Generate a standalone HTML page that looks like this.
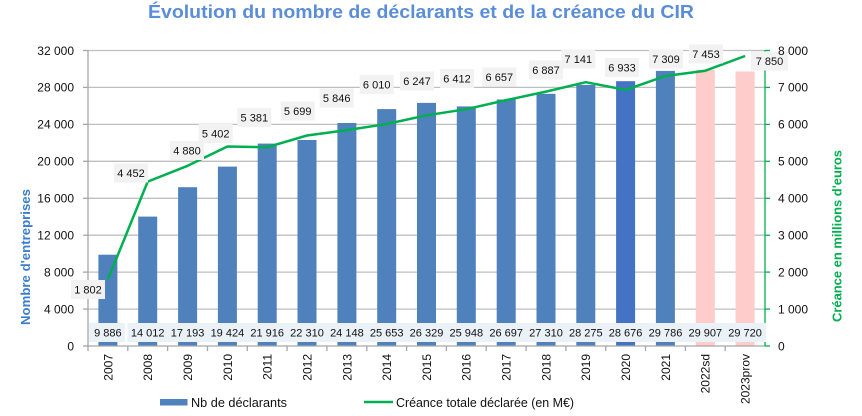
<!DOCTYPE html>
<html><head><meta charset="utf-8"><style>
html,body{margin:0;padding:0;background:#fff;}
svg{display:block;font-family:"Liberation Sans",Arial,sans-serif;}
</style></head><body>
<svg width="862" height="416" viewBox="0 0 862 416" xmlns="http://www.w3.org/2000/svg">
<rect width="862" height="416" fill="#fff"/>
<text x="148" y="18" font-size="18" font-weight="bold" fill="#5A8ED8" textLength="546" lengthAdjust="spacingAndGlyphs">Évolution du nombre de déclarants et de la créance du CIR</text>

<!-- gridlines -->
<g stroke="#BFBFBF" stroke-width="1.3">
<line x1="88" y1="50.5" x2="765" y2="50.5"/>
<line x1="88" y1="87.4" x2="765" y2="87.4"/>
<line x1="88" y1="124.4" x2="765" y2="124.4"/>
<line x1="88" y1="161.3" x2="765" y2="161.3"/>
<line x1="88" y1="198.3" x2="765" y2="198.3"/>
<line x1="88" y1="235.2" x2="765" y2="235.2"/>
<line x1="88" y1="272.1" x2="765" y2="272.1"/>
<line x1="88" y1="309.1" x2="765" y2="309.1"/>
</g>
<!-- left ticks -->
<g stroke="#A6A6A6" stroke-width="1.3">
<line x1="83" y1="50.5" x2="88" y2="50.5"/>
<line x1="83" y1="87.4" x2="88" y2="87.4"/>
<line x1="83" y1="124.4" x2="88" y2="124.4"/>
<line x1="83" y1="161.3" x2="88" y2="161.3"/>
<line x1="83" y1="198.3" x2="88" y2="198.3"/>
<line x1="83" y1="235.2" x2="88" y2="235.2"/>
<line x1="83" y1="272.1" x2="88" y2="272.1"/>
<line x1="83" y1="309.1" x2="88" y2="309.1"/>
<line x1="83" y1="346" x2="88" y2="346"/>
</g>

<!-- bars -->
<g fill="#4F81BD">
<rect x="98.4" y="254.7" width="19" height="91.3"/>
<rect x="138.2" y="216.6" width="19" height="129.4"/>
<rect x="178.1" y="187.2" width="19" height="158.8"/>
<rect x="217.9" y="166.6" width="19" height="179.4"/>
<rect x="257.7" y="143.6" width="19" height="202.4"/>
<rect x="297.5" y="140.0" width="19" height="206.0"/>
<rect x="337.4" y="123.0" width="19" height="223.0"/>
<rect x="377.2" y="109.1" width="19" height="236.9"/>
<rect x="417.0" y="102.9" width="19" height="243.1"/>
<rect x="456.8" y="106.4" width="19" height="239.6"/>
<rect x="496.7" y="99.5" width="19" height="246.5"/>
<rect x="536.5" y="93.8" width="19" height="252.2"/>
<rect x="576.3" y="84.9" width="19" height="261.1"/>
<rect x="655.9" y="70.9" width="19" height="275.1"/>
</g>
<rect x="616.1" y="81.2" width="19" height="264.8" fill="#4472C4"/>
<rect x="695.8" y="69.8" width="19" height="276.2" fill="#FFCCCC"/>
<rect x="735.6" y="71.5" width="19" height="274.5" fill="#FFCCCC"/>

<!-- axes -->
<line x1="88" y1="50" x2="88" y2="346" stroke="#A6A6A6" stroke-width="1.3"/>
<line x1="88" y1="346" x2="765" y2="346" stroke="#A6A6A6" stroke-width="1.3"/>
<g stroke="#A6A6A6" stroke-width="1.3">
<line x1="88" y1="346" x2="88" y2="351"/>
<line x1="127.8" y1="346" x2="127.8" y2="351"/>
<line x1="167.6" y1="346" x2="167.6" y2="351"/>
<line x1="207.5" y1="346" x2="207.5" y2="351"/>
<line x1="247.3" y1="346" x2="247.3" y2="351"/>
<line x1="287.1" y1="346" x2="287.1" y2="351"/>
<line x1="326.9" y1="346" x2="326.9" y2="351"/>
<line x1="366.8" y1="346" x2="366.8" y2="351"/>
<line x1="406.6" y1="346" x2="406.6" y2="351"/>
<line x1="446.4" y1="346" x2="446.4" y2="351"/>
<line x1="486.2" y1="346" x2="486.2" y2="351"/>
<line x1="526.1" y1="346" x2="526.1" y2="351"/>
<line x1="565.9" y1="346" x2="565.9" y2="351"/>
<line x1="605.7" y1="346" x2="605.7" y2="351"/>
<line x1="645.5" y1="346" x2="645.5" y2="351"/>
<line x1="685.4" y1="346" x2="685.4" y2="351"/>
<line x1="725.2" y1="346" x2="725.2" y2="351"/>
</g>
<line x1="765" y1="50" x2="765" y2="346" stroke="#00B050" stroke-width="1.3"/>
<g stroke="#00B050" stroke-width="1.3">
<line x1="765" y1="50.5" x2="770" y2="50.5"/>
<line x1="765" y1="87.4" x2="770" y2="87.4"/>
<line x1="765" y1="124.4" x2="770" y2="124.4"/>
<line x1="765" y1="161.3" x2="770" y2="161.3"/>
<line x1="765" y1="198.3" x2="770" y2="198.3"/>
<line x1="765" y1="235.2" x2="770" y2="235.2"/>
<line x1="765" y1="272.1" x2="770" y2="272.1"/>
<line x1="765" y1="309.1" x2="770" y2="309.1"/>
<line x1="765" y1="346" x2="770" y2="346"/>
</g>

<!-- bottom data label boxes -->
<rect x="89" y="323" width="36" height="19" fill="#EAF2F8"/>
<rect x="127.5" y="323" width="638.5" height="19" fill="#EAF2F8"/>
<g font-size="11" fill="#111" text-anchor="middle">
<text x="107.9" y="336.5">9 886</text>
<text x="147.7" y="336.5">14 012</text>
<text x="187.6" y="336.5">17 193</text>
<text x="227.4" y="336.5">19 424</text>
<text x="267.2" y="336.5">21 916</text>
<text x="307.0" y="336.5">22 310</text>
<text x="346.9" y="336.5">24 148</text>
<text x="386.7" y="336.5">25 653</text>
<text x="426.5" y="336.5">26 329</text>
<text x="466.3" y="336.5">25 948</text>
<text x="506.2" y="336.5">26 697</text>
<text x="546.0" y="336.5">27 310</text>
<text x="585.8" y="336.5">28 275</text>
<text x="625.6" y="336.5">28 676</text>
<text x="665.5" y="336.5">29 786</text>
<text x="705.3" y="336.5">29 907</text>
<text x="745.1" y="336.5">29 720</text>
</g>

<!-- line -->
<polyline fill="none" stroke="#00B050" stroke-width="2.5" stroke-linejoin="round" points="107.9,279.4 147.7,181.6 187.6,165.8 227.4,146.5 267.2,147.2 307.0,135.5 346.9,130.1 386.7,124.0 426.5,115.3 466.3,109.2 506.2,100.1 546.0,91.6 585.8,82.2 625.6,89.9 665.5,76.0 705.3,70.7 745.1,56.0"/>

<!-- line labels -->
<g fill="#F2F2F2">
<rect x="71" y="280" width="34" height="19"/>
<rect x="114" y="163.5" width="34" height="19"/>
<rect x="170" y="141" width="34" height="19"/>
<rect x="198.7" y="124" width="34" height="19"/>
<rect x="237.3" y="108" width="34" height="19"/>
<rect x="280.7" y="101.5" width="34" height="19"/>
<rect x="319.7" y="88.5" width="34" height="19"/>
<rect x="359.7" y="75" width="34" height="19"/>
<rect x="400" y="71.5" width="34" height="19"/>
<rect x="440" y="69" width="34" height="19"/>
<rect x="482.3" y="67.5" width="34" height="19"/>
<rect x="529" y="60.5" width="34" height="19"/>
<rect x="561.3" y="49.5" width="34" height="19"/>
<rect x="605" y="58" width="34" height="19"/>
<rect x="649" y="49.5" width="34" height="19"/>
<rect x="689" y="44.5" width="34" height="19"/>
<rect x="751" y="51.5" width="37" height="19"/>
</g>
<g font-size="11" fill="#111" text-anchor="middle">
<text x="88" y="293.5">1 802</text>
<text x="131" y="177">4 452</text>
<text x="187" y="154.5">4 880</text>
<text x="215.7" y="137.5">5 402</text>
<text x="254.3" y="121.5">5 381</text>
<text x="297.7" y="115">5 699</text>
<text x="336.7" y="102">5 846</text>
<text x="376.7" y="88.5">6 010</text>
<text x="417" y="85">6 247</text>
<text x="457" y="82.5">6 412</text>
<text x="499.3" y="81">6 657</text>
<text x="546" y="74">6 887</text>
<text x="578.3" y="63">7 141</text>
<text x="622" y="71.5">6 933</text>
<text x="666" y="63">7 309</text>
<text x="706" y="58">7 453</text>
<text x="769.5" y="65">7 850</text>
</g>

<!-- left tick labels -->
<g font-size="12" fill="#111" text-anchor="end">
<text x="74" y="54.8">32 000</text>
<text x="74" y="91.7">28 000</text>
<text x="74" y="128.7">24 000</text>
<text x="74" y="165.6">20 000</text>
<text x="74" y="202.6">16 000</text>
<text x="74" y="239.5">12 000</text>
<text x="74" y="276.4">8 000</text>
<text x="74" y="313.4">4 000</text>
<text x="74" y="350.3">0</text>
</g>
<!-- right tick labels -->
<g font-size="12" fill="#111">
<text x="778" y="54.8">8 000</text>
<text x="778" y="91.7">7 000</text>
<text x="778" y="128.7">6 000</text>
<text x="778" y="165.6">5 000</text>
<text x="778" y="202.6">4 000</text>
<text x="778" y="239.5">3 000</text>
<text x="778" y="276.4">2 000</text>
<text x="778" y="313.4">1 000</text>
<text x="778" y="350.3">0</text>
</g>

<!-- axis titles -->
<text transform="translate(30,257) rotate(-90)" font-size="13" font-weight="bold" fill="#3B7DD0" text-anchor="middle" textLength="136" lengthAdjust="spacingAndGlyphs">Nombre d'entreprises</text>
<text transform="translate(841.5,236) rotate(-90)" font-size="13" font-weight="bold" fill="#00B050" text-anchor="middle" textLength="172" lengthAdjust="spacingAndGlyphs">Créance en millions d'euros</text>

<!-- x labels -->
<g font-size="12" fill="#111" text-anchor="end">
<text transform="translate(112.3,354) rotate(-90)">2007</text>
<text transform="translate(152.1,354) rotate(-90)">2008</text>
<text transform="translate(192.0,354) rotate(-90)">2009</text>
<text transform="translate(231.8,354) rotate(-90)">2010</text>
<text transform="translate(271.6,354) rotate(-90)">2011</text>
<text transform="translate(311.4,354) rotate(-90)">2012</text>
<text transform="translate(351.3,354) rotate(-90)">2013</text>
<text transform="translate(391.1,354) rotate(-90)">2014</text>
<text transform="translate(430.9,354) rotate(-90)">2015</text>
<text transform="translate(470.7,354) rotate(-90)">2016</text>
<text transform="translate(510.6,354) rotate(-90)">2017</text>
<text transform="translate(550.4,354) rotate(-90)">2018</text>
<text transform="translate(590.2,354) rotate(-90)">2019</text>
<text transform="translate(630.0,354) rotate(-90)">2020</text>
<text transform="translate(669.9,354) rotate(-90)">2021</text>
<text transform="translate(709.7,354) rotate(-90)">2022sd</text>
<text transform="translate(749.5,354) rotate(-90)">2023prov</text>
</g>

<!-- legend -->
<rect x="160" y="399" width="27.5" height="6.5" fill="#4F81BD"/>
<text x="191" y="407" font-size="13" fill="#111" textLength="96" lengthAdjust="spacingAndGlyphs">Nb de déclarants</text>
<line x1="364" y1="402" x2="393" y2="402" stroke="#00B050" stroke-width="2.5"/>
<text x="396" y="407" font-size="13" fill="#111" textLength="178" lengthAdjust="spacingAndGlyphs">Créance totale déclarée (en M€)</text>
</svg>
</body></html>
